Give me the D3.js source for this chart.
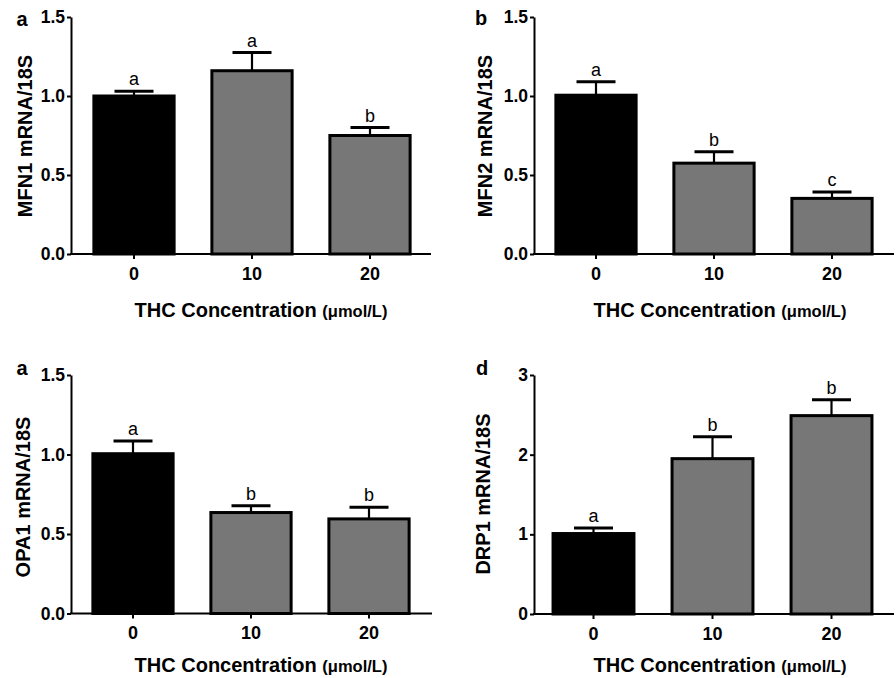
<!DOCTYPE html>
<html>
<head>
<meta charset="utf-8">
<script src="https://cdn.jsdelivr.net/npm/d3@7"></script>
<style>
  body { margin: 0; background: #fff; }
  svg { display: block; font-family: "Liberation Sans", Arial, sans-serif; }
</style>
</head>
<body>
<svg width="896" height="678"></svg>
<script>
const concentrations = ['0', '10', '20'];

const mfn1Means = [1.0, 1.16, 0.75];
const mfn1Errors = [0.03, 0.115, 0.05];
const mfn1Letters = ['a', 'a', 'b'];

const mfn2Means = [1.005, 0.575, 0.352];
const mfn2Errors = [0.085, 0.072, 0.04];
const mfn2Letters = ['a', 'b', 'c'];

const opa1Means = [1.005, 0.635, 0.595];
const opa1Errors = [0.08, 0.043, 0.073];
const opa1Letters = ['a', 'b', 'b'];

const drp1Means = [1.01, 1.95, 2.49];
const drp1Errors = [0.07, 0.275, 0.2];
const drp1Letters = ['a', 'b', 'b'];

const smallTicks = [0, 0.5, 1.0, 1.5];
const drpTicks = [0, 1, 2, 3];

const svg = d3.select('svg');
const barFills = ['#000', '#777', '#777'];

function drawPanel(p) {
  const g = svg.append('g');
  const y = d3.scaleLinear().domain([0, p.yMax]).range([p.yBot, p.yTop]);
  const x = d3.scaleBand()
    .domain(concentrations)
    .range([p.bandStart, p.bandEnd])
    .paddingInner(0.32)
    .paddingOuter(0.16);

  const rows = concentrations.map((c, i) => ({
    c, mean: p.means[i], err: p.errors[i], letter: p.letters[i], fill: barFills[i]
  }));

  // error bars (upper only, drawn behind bars)
  const eb = g.selectAll('g.err').data(rows).enter().append('g').attr('class', 'err');
  eb.append('line')
    .attr('x1', d => x(d.c) + x.bandwidth() / 2)
    .attr('x2', d => x(d.c) + x.bandwidth() / 2)
    .attr('y1', d => y(d.mean))
    .attr('y2', d => y(d.mean + d.err))
    .attr('stroke', '#000').attr('stroke-width', 2.2);
  eb.append('line')
    .attr('x1', d => x(d.c) + x.bandwidth() / 2 - 19.5)
    .attr('x2', d => x(d.c) + x.bandwidth() / 2 + 19.5)
    .attr('y1', d => y(d.mean + d.err))
    .attr('y2', d => y(d.mean + d.err))
    .attr('stroke', '#000').attr('stroke-width', 3);

  g.selectAll('rect.bar').data(rows).enter().append('rect')
    .attr('class', 'bar')
    .attr('x', d => x(d.c))
    .attr('width', x.bandwidth())
    .attr('y', d => y(d.mean))
    .attr('height', d => y(0) - y(d.mean))
    .attr('fill', d => d.fill)
    .attr('stroke', '#000')
    .attr('stroke-width', 3);

  g.selectAll('text.sig').data(rows).enter().append('text')
    .attr('class', 'sig')
    .attr('x', d => x(d.c) + x.bandwidth() / 2)
    .attr('y', d => y(d.mean + d.err) - 6)
    .attr('text-anchor', 'middle')
    .attr('font-size', 18)
    .text(d => d.letter);

  // y axis
  const yAxis = g.append('g')
    .attr('transform', `translate(${p.axisX},0)`)
    .call(d3.axisLeft(y).tickValues(p.ticks).tickFormat(p.fmt)
      .tickSize(4).tickSizeOuter(0).tickPadding(2));
  yAxis.select('.domain').attr('stroke-width', 2);
  yAxis.selectAll('.tick line').attr('stroke-width', 2);
  yAxis.selectAll('.tick text')
    .attr('font-size', 17.5).attr('font-weight', 'bold')
    .attr('font-family', '"Liberation Sans", Arial, sans-serif')
    .attr('fill', '#000');

  // x axis
  const xAxis = g.append('g')
    .attr('transform', `translate(0,${p.yBot})`)
    .call(d3.axisBottom(x).tickSize(5).tickSizeOuter(0).tickPadding(8));
  xAxis.select('.domain').remove();
  xAxis.selectAll('.tick line').attr('stroke-width', 2);
  xAxis.selectAll('.tick text')
    .attr('font-size', 18).attr('font-weight', 'bold')
    .attr('font-family', '"Liberation Sans", Arial, sans-serif')
    .attr('fill', '#000');
  g.append('line')
    .attr('x1', p.axisX - 1).attr('x2', p.axisEnd)
    .attr('y1', p.yBot).attr('y2', p.yBot)
    .attr('stroke', '#000').attr('stroke-width', 2);

  // titles
  g.append('text')
    .attr('transform', `translate(${p.yTitleX},${p.yTitleY}) rotate(-90)`)
    .attr('text-anchor', 'middle')
    .attr('dy', '0.35em')
    .attr('font-size', 20).attr('font-weight', 'bold')
    .text(p.yTitle);

  const xt = g.append('text')
    .attr('x', p.xTitleX).attr('y', p.xTitleY)
    .attr('text-anchor', 'middle')
    .attr('font-size', 20).attr('font-weight', 'bold');
  xt.append('tspan').text('THC Concentration ');
  xt.append('tspan').attr('font-size', 16.5).text('(\u03bcmol/L)');

  g.append('text')
    .attr('x', p.letterX).attr('y', p.letterY)
    .attr('text-anchor', 'middle')
    .attr('font-size', 20).attr('font-weight', 'bold')
    .text(p.panel);
}

const fmt1 = d3.format('.1f');
const fmt0 = d3.format('d');

drawPanel({
  panel: 'a', means: mfn1Means, errors: mfn1Errors, letters: mfn1Letters,
  yMax: 1.5, ticks: smallTicks, fmt: fmt1, yTitle: 'MFN1 mRNA/18S',
  axisX: 71, bandStart: 75, bandEnd: 429, axisEnd: 431, yTop: 17, yBot: 254,
  yTitleX: 25, yTitleY: 136, xTitleX: 261, xTitleY: 317, letterX: 22, letterY: 26
});
drawPanel({
  panel: 'b', means: mfn2Means, errors: mfn2Errors, letters: mfn2Letters,
  yMax: 1.5, ticks: smallTicks, fmt: fmt1, yTitle: 'MFN2 mRNA/18S',
  axisX: 534, bandStart: 537, bandEnd: 891, axisEnd: 894, yTop: 17, yBot: 254,
  yTitleX: 485, yTitleY: 136, xTitleX: 720, xTitleY: 317, letterX: 481, letterY: 25
});
drawPanel({
  panel: 'a', means: opa1Means, errors: opa1Errors, letters: opa1Letters,
  yMax: 1.5, ticks: smallTicks, fmt: fmt1, yTitle: 'OPA1 mRNA/18S',
  axisX: 71, bandStart: 74, bandEnd: 428, axisEnd: 432, yTop: 375, yBot: 613.5,
  yTitleX: 23, yTitleY: 497, xTitleX: 261, xTitleY: 672, letterX: 22, letterY: 375
});
drawPanel({
  panel: 'd', means: drp1Means, errors: drp1Errors, letters: drp1Letters,
  yMax: 3, ticks: drpTicks, fmt: fmt0, yTitle: 'DRP1 mRNA/18S',
  axisX: 534, bandStart: 534, bandEnd: 891, axisEnd: 894, yTop: 375, yBot: 614,
  yTitleX: 483, yTitleY: 494, xTitleX: 720, xTitleY: 672, letterX: 482, letterY: 375
});
</script>
</body>
</html>
